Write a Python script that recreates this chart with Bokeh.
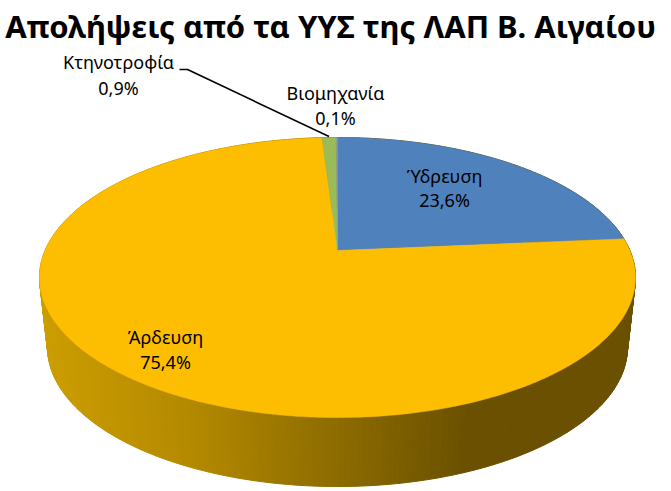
import numpy as np
from bokeh.plotting import figure
from bokeh.models import Range1d
from bokeh.core.properties import value
from bokeh.embed import file_html
from bokeh.resources import INLINE

title = "Απολήψεις από τα ΥΥΣ της ΛΑΠ Β. Αιγαίου"
categories = ["Ύδρευση", "Άρδευση", "Κτηνοτροφία", "Βιομηχανία"]
shares = [23.6, 75.4, 0.9, 0.1]
labels = ["23,6%", "75,4%", "0,9%", "0,1%"]
colors = ["#4F81BD", "#FDBD00", "#9BBB59", "#8CA08A"]

W, H = 671, 491
FONT = "Noto Sans"
TILT = 0.193
TOP = dict(cx=337.0, cy=250.0, a=292.4, b=134.8)
LOW = dict(cx=337.0, cy=320.0, a=284.5, b=134.0)


def project(theta, g):
    u, v = np.sin(theta), np.cos(theta)
    w = 1 + TILT * v
    return g["cx"] + g["a"] * u / w, g["cy"] - g["b"] * v / w


def side_color(x):
    stops_x = [40, 200, 340, 470, 640]
    r = np.interp(x, stops_x, [205, 178, 140, 106, 106])
    g = np.interp(x, stops_x, [158, 136, 107, 80, 80])
    return "#%02x%02x00" % (int(r), int(g))


p = figure(width=W, height=H, output_backend="svg", toolbar_location=None,
           x_range=Range1d(0, W), y_range=Range1d(H, 0),
           min_border=0, outline_line_color=None)
p.axis.visible = False
p.grid.visible = False

# side wall
edges = np.radians(np.arange(0, 361, 1.0))
xs_side, ys_side, cs_side = [], [], []
for t0, t1 in zip(edges[:-1], edges[1:]):
    ts = np.array([t0, t1])
    xa, ya = project(ts, TOP)
    xb, yb = project(ts[::-1], LOW)
    xs_side.append(list(xa) + list(xb))
    ys_side.append(list(ya) + list(yb))
    cs_side.append(side_color(float(np.mean(xa))))
order = np.argsort([-np.cos((a + b) / 2) for a, b in zip(edges[:-1], edges[1:])])
p.patches([xs_side[i] for i in order], [ys_side[i] for i in order],
          fill_color=[cs_side[i] for i in order],
          line_color=[cs_side[i] for i in order], line_width=1)

# top face
cum = np.cumsum([0] + shares) / sum(shares) * 2 * np.pi
for i, share in enumerate(shares):
    ts = np.linspace(cum[i], cum[i + 1], max(3, int(share * 6)))
    rx, ry = project(ts, TOP)
    p.patch([TOP["cx"]] + list(rx), [TOP["cy"]] + list(ry),
            fill_color=colors[i], line_color=colors[i], line_width=0.5)

# leader line to the Κτηνοτροφία slice
lx, ly = project((cum[2] + cum[3]) / 2, TOP)
p.line([179, 187, lx], [69, 69, ly - 1], line_color="black", line_width=1.6)


def txt(x, y, s, size, style="normal"):
    p.text([x], [y], text=[s], text_font=value(FONT), text_font_size=size,
           text_font_style=style, text_color="black", text_align="center",
           text_baseline="middle")


txt(330, 25, title, "31px", "bold")
label_pos = [(444, 175, 199), (165, 336, 361), (118, 61, 87), (335, 92, 117)]
for (x, y1, y2), c, l in zip(label_pos, categories, labels):
    txt(x, y1, c, "18px")
    txt(x, y2, l, "18px")

open("out.html", "w").write(file_html(p, INLINE))
